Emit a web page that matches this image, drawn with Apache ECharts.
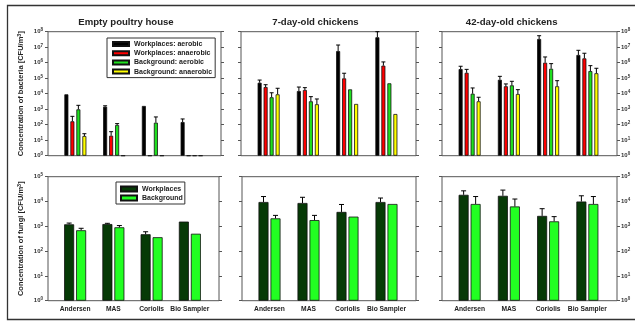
<!DOCTYPE html>
<html>
<head>
<meta charset="utf-8">
<script src="https://cdn.jsdelivr.net/npm/echarts@6/dist/echarts.min.js"></script>
<style>
  html, body { margin: 0; padding: 0; background: #fff; }
  #chart { width: 635px; height: 322px; }
</style>
</head>
<body>
<div id="chart"></div>
<script>
// Sampling devices (x categories, shared by all panels)
const samplers = ['Andersen', 'MAS', 'Coriolis', 'Bio Sampler'];
const panelTitles = ['Empty poultry house', '7-day-old chickens', '42-day-old chickens'];
const bacteriaNames = ['Workplaces: aerobic', 'Workplaces: anaerobic', 'Background: aerobic', 'Background: anaerobic'];
const fungiNames = ['Workplaces', 'Background'];

// Exponents shown on the y axes (10^n CFU/m³)
const bacteriaTicks = [0, 1, 2, 3, 4, 5, 6, 7, 8];
const fungiTicks = [0, 1, 2, 3, 4, 5];

// Bacteria, log10 CFU/m³ — mean and upper error limit, one array per house stage and series
const emptyAerobicWp = [3.96, 3.16, 3.21, 2.17];
const emptyAerobicWpErr = [null, 3.22, null, 2.37];
const emptyAnaerobicWp = [2.22, 1.29, 0, 0];
const emptyAnaerobicWpErr = [2.54, 1.55, null, null];
const emptyAerobicBg = [2.99, 1.98, 2.13, 0];
const emptyAerobicBgErr = [3.25, 2.07, 2.50, null];
const emptyAnaerobicBg = [1.27, 0, 0, 0];
const emptyAnaerobicBgErr = [1.42, null, null, null];

const day7AerobicWp = [4.71, 4.17, 6.75, 7.64];
const day7AerobicWpErr = [4.88, 4.43, 7.14, 8.00];
const day7AnaerobicWp = [4.43, 4.24, 4.99, 5.81];
const day7AnaerobicWpErr = [4.58, 4.39, 5.32, 6.05];
const day7AerobicBg = [3.77, 3.51, 4.28, 4.67];
const day7AerobicBgErr = [4.06, 3.81, null, null];
const day7AnaerobicBg = [3.96, 3.32, 3.34, 2.69];
const day7AnaerobicBgErr = [4.35, 3.66, null, null];

const day42AerobicWp = [5.59, 4.90, 7.53, 6.50];
const day42AerobicWpErr = [5.77, 5.12, 7.74, 6.80];
const day42AnaerobicWp = [5.35, 4.48, 6.00, 6.28];
const day42AnaerobicWpErr = [5.57, 4.63, 6.37, 6.61];
const day42AerobicBg = [4.00, 4.54, 5.61, 5.46];
const day42AerobicBgErr = [4.37, 4.80, 5.94, 5.81];
const day42AnaerobicBg = [3.51, 3.98, 4.48, 5.32];
const day42AnaerobicBgErr = [3.77, 4.26, 4.84, 5.64];

// Fungi, log10 CFU/m³
const emptyFungiWp = [3.08, 3.09, 2.68, 3.19];
const emptyFungiWpErr = [3.13, 3.12, 2.78, null];
const emptyFungiBg = [2.84, 2.96, 2.56, 2.70];
const emptyFungiBgErr = [2.92, 3.03, null, null];

const day7FungiWp = [3.98, 3.94, 3.58, 3.98];
const day7FungiWpErr = [4.20, 4.17, 3.88, 4.14];
const day7FungiBg = [3.32, 3.25, 3.39, 3.90];
const day7FungiBgErr = [3.44, 3.44, null, null];

const day42FungiWp = [4.27, 4.23, 3.42, 4.00];
const day42FungiWpErr = [4.43, 4.46, 3.71, 4.23];
const day42FungiBg = [3.90, 3.80, 3.20, 3.90];
const day42FungiBgErr = [4.20, 4.10, 3.39, 4.20];

// ---- assemble panels ----
const FONT = '"Liberation Sans", Arial, sans-serif';
const AXIS_COLOR = '#555';
const bacteriaColors = ['#000000', '#ff0000', '#1fe01f', '#ffff00'];
const fungiColors = ['#063a06', '#22ff22'];

const bacteriaPanels = [
  { vals: [emptyAerobicWp, emptyAnaerobicWp, emptyAerobicBg, emptyAnaerobicBg],
    errs: [emptyAerobicWpErr, emptyAnaerobicWpErr, emptyAerobicBgErr, emptyAnaerobicBgErr] },
  { vals: [day7AerobicWp, day7AnaerobicWp, day7AerobicBg, day7AnaerobicBg],
    errs: [day7AerobicWpErr, day7AnaerobicWpErr, day7AerobicBgErr, day7AnaerobicBgErr] },
  { vals: [day42AerobicWp, day42AnaerobicWp, day42AerobicBg, day42AnaerobicBg],
    errs: [day42AerobicWpErr, day42AnaerobicWpErr, day42AerobicBgErr, day42AnaerobicBgErr] }
];
const fungiPanels = [
  { vals: [emptyFungiWp, emptyFungiBg], errs: [emptyFungiWpErr, emptyFungiBgErr] },
  { vals: [day7FungiWp, day7FungiBg], errs: [day7FungiWpErr, day7FungiBgErr] },
  { vals: [day42FungiWp, day42FungiBg], errs: [day42FungiWpErr, day42FungiBgErr] }
];

// Plot frames (px): columns and rows
const colsTop = [[48, 221], [241, 416], [442, 617]];
const colsBottom = [[48, 219], [242, 416], [442, 617]];
const rows = [[31.7, 155.7], [176.7, 300.7]];
const INSET_L = 8, INSET_R = 10;

const grids = [], xAxes = [], yAxes = [], series = [];

const tickRich = {
  b: { fontSize: 6, fontWeight: 'bold', color: '#333', fontFamily: FONT },
  s: { fontSize: 4.5, fontWeight: 'bold', color: '#333', fontFamily: FONT, padding: [0, 0, 3, 0] }
};
const tickFmt = v => '{b|10}{s|' + v + '}';

function errorSeries(xi, yi, vals, errs, k, n, bw, gap, cap) {
  const data = [];
  vals.forEach((v, i) => { if (errs[i] != null) data.push([i, v, errs[i]]); });
  const off = (k - (n - 1) / 2) * (bw + gap);
  return {
    type: 'custom', xAxisIndex: xi, yAxisIndex: yi, z: 5, silent: true,
    data, encode: { x: 0, y: [1, 2] },
    renderItem(params, api) {
      const a = api.coord([api.value(0), api.value(1)]);
      const b = api.coord([api.value(0), api.value(2)]);
      const x = a[0] + off;
      const st = { stroke: '#000', lineWidth: 1 };
      return { type: 'group', children: [
        { type: 'line', shape: { x1: x, y1: a[1], x2: x, y2: b[1] }, style: st },
        { type: 'line', shape: { x1: x - cap, y1: b[1], x2: x + cap, y2: b[1] }, style: st }
      ] };
    }
  };
}

function addPanel(row, col, panel, names, colors, ticks) {
  const [L, R] = (row === 0 ? colsTop : colsBottom)[col];
  const [T, B] = rows[row];
  const maxExp = ticks[ticks.length - 1];
  const n = names.length;
  const bw = row === 0 ? 4 : 10;
  const gap = 2;

  // frame grid carrying the visible y axes
  const gf = grids.length;
  grids.push({ left: L, top: T, width: R - L, height: B - T, show: true,
               borderColor: AXIS_COLOR, borderWidth: 1, backgroundColor: 'transparent' });
  xAxes.push({ gridIndex: gf, type: 'value', min: 0, max: 1, show: false });
  yAxes.push({
    gridIndex: gf, type: 'value', position: 'left', min: 0, max: maxExp, interval: 1,
    axisLine: { show: false },
    axisTick: { show: true, length: 3, lineStyle: { color: AXIS_COLOR } },
    splitLine: { show: false },
    axisLabel: { show: col === 0, margin: 5, formatter: tickFmt, rich: tickRich },
    name: col === 0
      ? (row === 0 ? '{n|Concentration of bacteria [CFU/m}{u|3}{n|]}' : '{n|Concentration of fungi [CFU/m}{u|3}{n|]}')
      : '',
    nameLocation: 'middle', nameRotate: 90, nameGap: 22,
    nameTextStyle: { rich: {
      n: { fontSize: 7.5, fontWeight: 'bold', color: '#222', fontFamily: FONT },
      u: { fontSize: 5.5, fontWeight: 'bold', color: '#222', fontFamily: FONT, padding: [0, 0, 4, 0] }
    } }
  });
  yAxes.push({
    gridIndex: gf, type: 'value', position: 'right', min: 0, max: maxExp, interval: 1,
    axisLine: { show: false },
    axisTick: { show: true, length: 3, lineStyle: { color: AXIS_COLOR } },
    splitLine: { show: false },
    axisLabel: { show: col === 2, margin: 4, formatter: tickFmt, rich: tickRich }
  });

  // data grid holding the bars
  const gd = grids.length;
  grids.push({ left: L + INSET_L, top: T, width: (R - INSET_R) - (L + INSET_L), height: B - T });
  const xi = xAxes.length;
  xAxes.push({
    gridIndex: gd, type: 'category', data: samplers,
    axisLine: { show: false }, axisTick: { show: false },
    axisLabel: { show: row === 1, margin: 5, fontSize: 6.7, fontWeight: 'bold', color: '#222', fontFamily: FONT, interval: 0 }
  });
  const yi = yAxes.length;
  yAxes.push({ gridIndex: gd, type: 'value', min: 0, max: maxExp, show: false });

  names.forEach((name, k) => {
    series.push({
      type: 'bar', name, xAxisIndex: xi, yAxisIndex: yi,
      data: panel.vals[k], barWidth: bw, barGap: (gap / bw * 100) + '%',
      itemStyle: { color: colors[k], borderColor: '#111', borderWidth: 0.8 },
      silent: true
    });
  });
  names.forEach((name, k) => {
    series.push(errorSeries(xi, yi, panel.vals[k], panel.errs[k], k, n, bw, gap, row === 0 ? 2 : 2.5));
  });
}

bacteriaPanels.forEach((p, c) => addPanel(0, c, p, bacteriaNames, bacteriaColors, bacteriaTicks));
fungiPanels.forEach((p, c) => addPanel(1, c, p, fungiNames, fungiColors, fungiTicks));

const titleX = [126, 315.5, 511.7];
const graphics = [
  { type: 'rect', silent: true, shape: { x: 7.5, y: 5.5, width: 700, height: 314 },
    style: { fill: 'none', stroke: '#333', lineWidth: 1.3 } }
];
panelTitles.forEach((t, i) => graphics.push({
  type: 'text', silent: true, x: titleX[i], y: 22.7,
  style: { text: t, font: 'bold 9.6px ' + FONT, fill: '#222',
           align: 'center', verticalAlign: 'middle', textAlign: 'center', textVerticalAlign: 'middle' }
}));

const legendText = { fontSize: 7, fontWeight: 'bold', color: '#222', fontFamily: FONT, lineHeight: 8 };

const option = {
  animation: false,
  backgroundColor: '#fff',
  grid: grids,
  xAxis: xAxes,
  yAxis: yAxes,
  series,
  graphic: graphics,
  legend: [
    { data: bacteriaNames, orient: 'vertical', left: 107, top: 38, icon: 'rect',
      itemWidth: 16, itemHeight: 4, itemGap: 1.2, padding: [2, 3, 2, 5],
      borderColor: '#333', borderWidth: 1, selectedMode: false, textStyle: legendText },
    { data: fungiNames, orient: 'vertical', left: 116, top: 182, icon: 'rect',
      itemWidth: 16, itemHeight: 5, itemGap: 1, padding: [3, 2, 2, 4],
      borderColor: '#333', borderWidth: 1, selectedMode: false, textStyle: legendText }
  ]
};

const chart = echarts.init(document.getElementById('chart'), null, { renderer: 'canvas' });
chart.setOption(option);
</script>
</body>
</html>
